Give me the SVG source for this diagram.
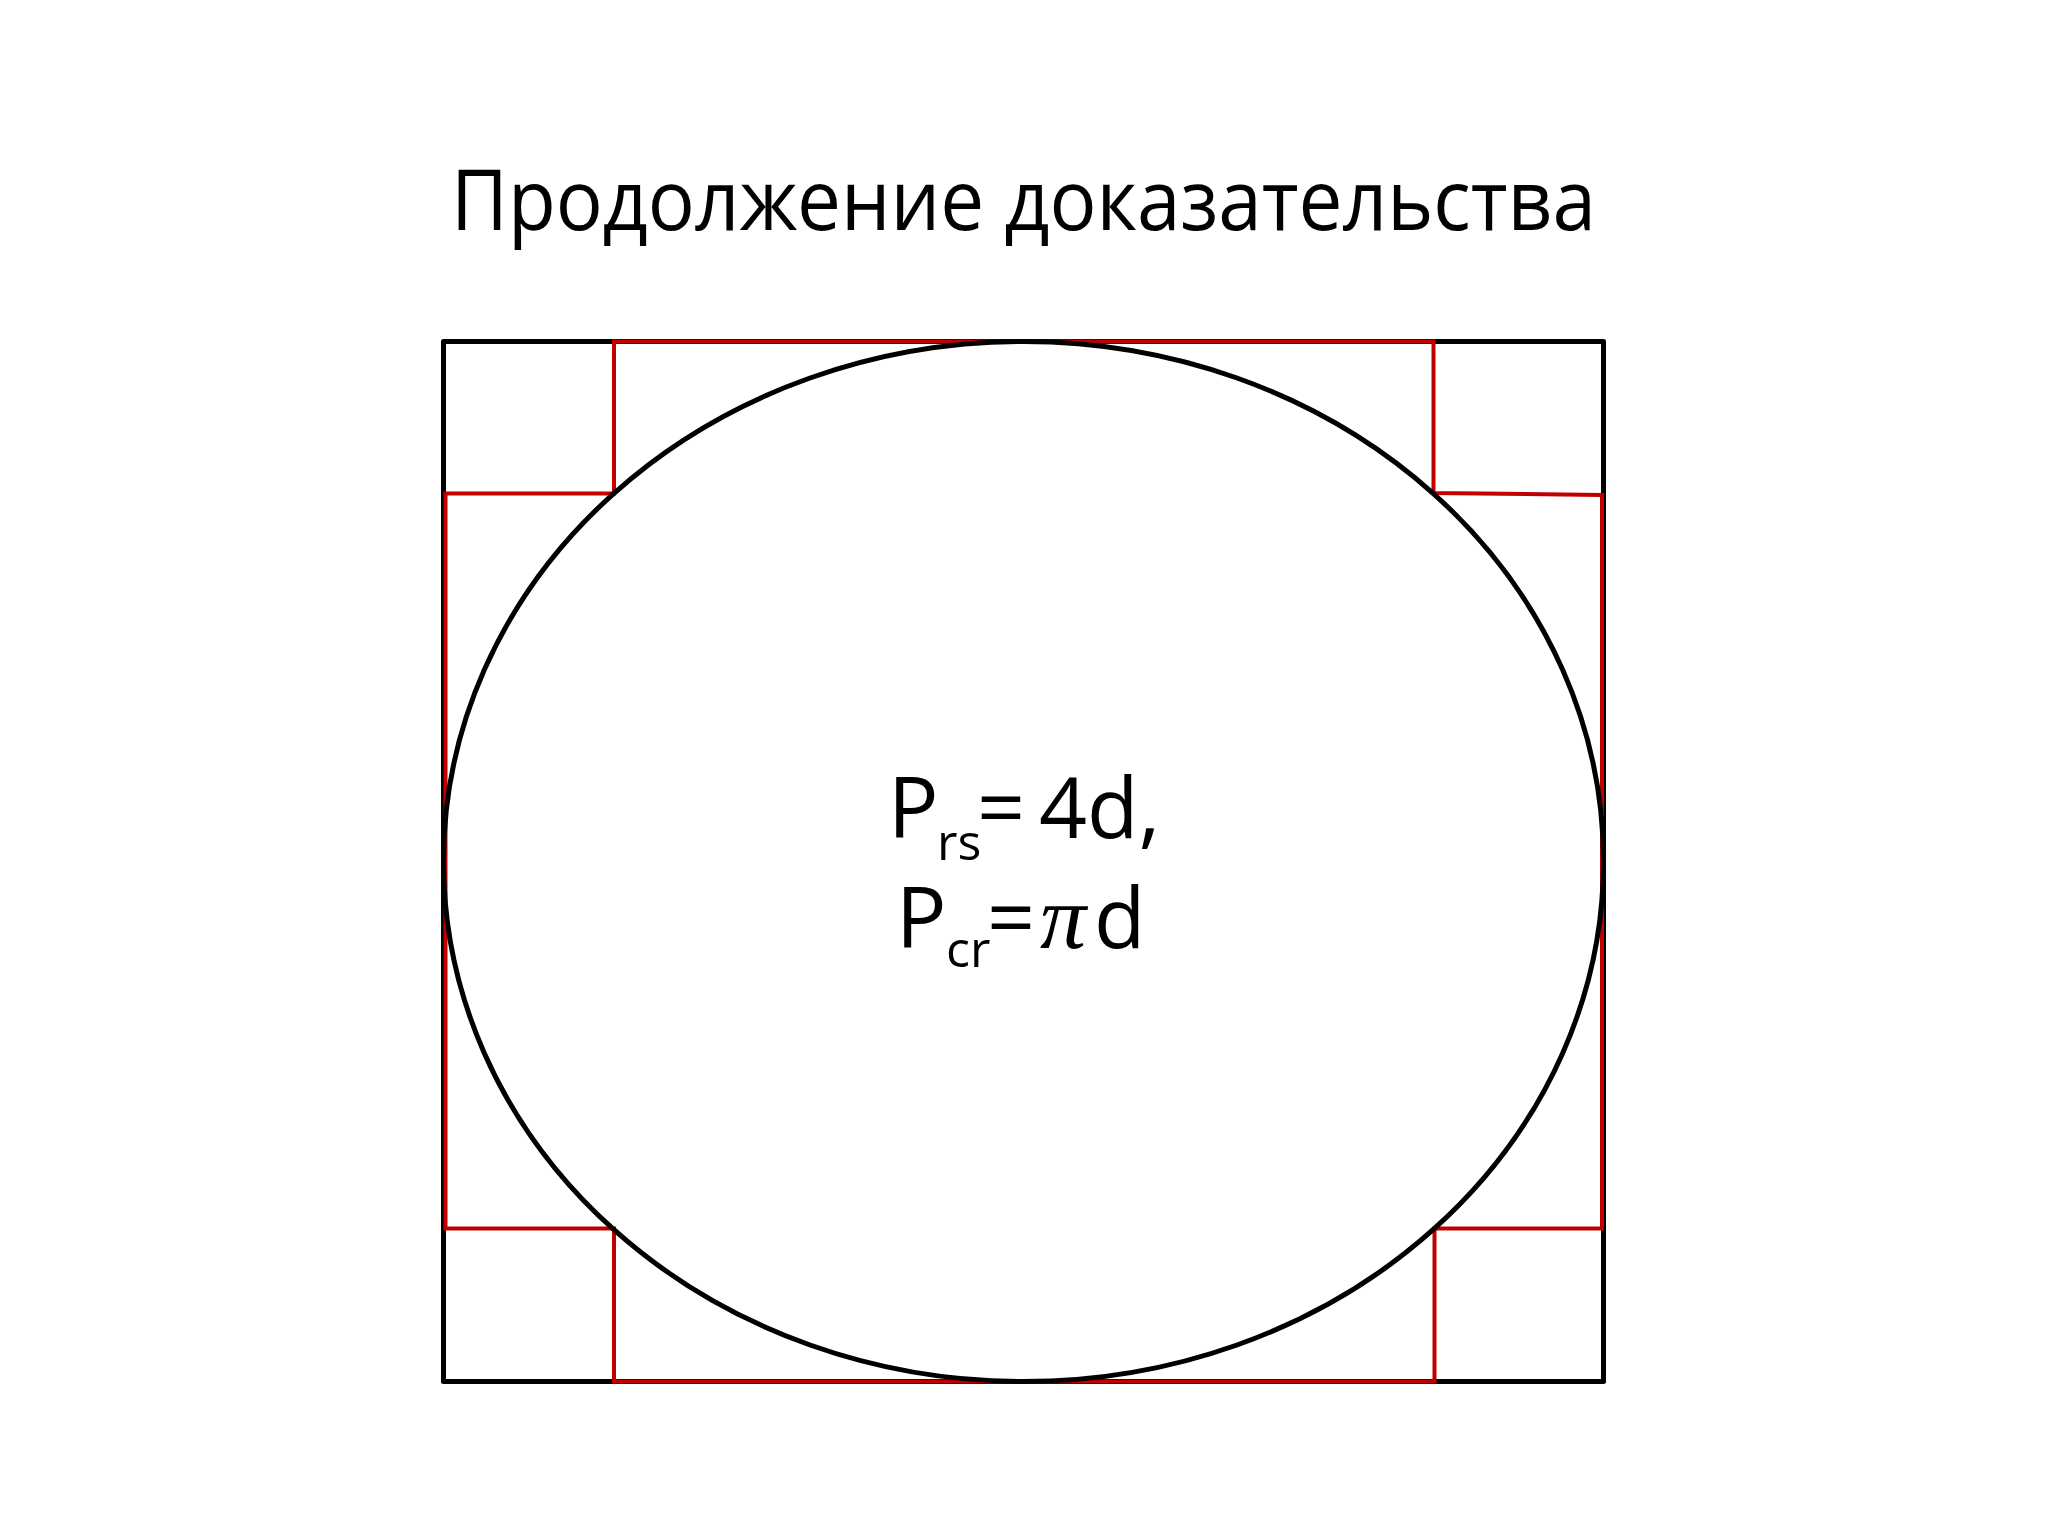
<svg xmlns="http://www.w3.org/2000/svg" width="2048" height="1536" viewBox="0 0 2048 1536">
<style>
.blk{fill:none;stroke:#000;stroke-width:5;stroke-linejoin:round}
.red{fill:none;stroke:#c00000;stroke-width:4;stroke-linejoin:miter}
.t{font-family:"Open Sans","Noto Sans",sans-serif;fill:#000}
</style>
<rect width="2048" height="1536" fill="#fff"/>
<text id="title" class="t" x="1023.5" y="230" font-size="84" text-anchor="middle" textLength="1145" lengthAdjust="spacingAndGlyphs">Продолжение доказательства</text>
<g id="square">
<rect class="blk" x="443.5" y="341.5" width="1160" height="1040" fill="#fff"/>
</g>
<g id="polygon">
<path class="red" d="M614,341.5 H1433.5 V493 L1602,495 V1228.5 H1434.5 V1381.5 H614 V1228.5 H445.5 V493.5 H614 Z"/>
</g>
<g id="circle">
<ellipse class="blk" cx="1023.5" cy="861.5" rx="580" ry="520" fill="#fdfefd" fill-opacity="0.9"/>
</g>
<g id="formulas" class="t">
<text x="888" y="838" font-size="84">P</text>
<text x="937" y="860" font-size="50">rs</text>
<text x="977" y="838" font-size="84">=</text>
<text x="1039" y="838" font-size="84">4d,</text>
<text x="896" y="948" font-size="84">P</text>
<text x="946" y="967" font-size="50">cr</text>
<text x="987" y="948" font-size="84">=</text>
<text x="1040" y="948" font-size="92" font-family="Liberation Serif, serif" font-style="italic">π</text>
<text x="1094" y="948" font-size="84">d</text>
</g>
</svg>
